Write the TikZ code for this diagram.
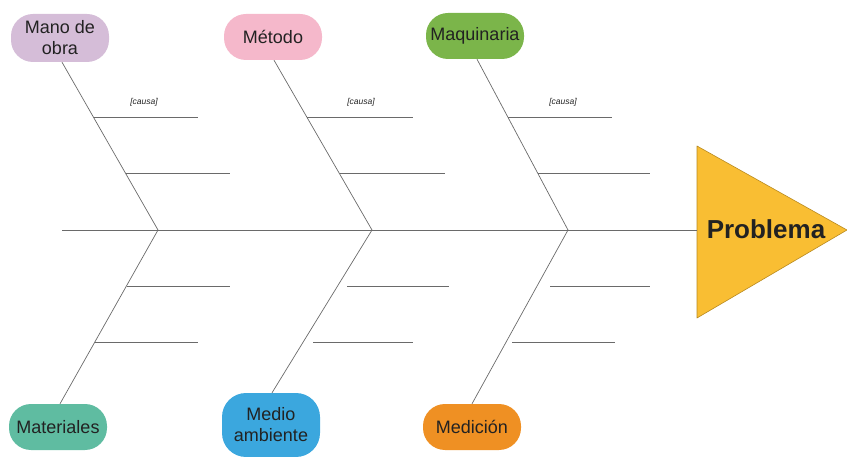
\documentclass[tikz,border=0pt]{standalone}
\usepackage{fontspec}
\setmainfont{Liberation Sans}
\usetikzlibrary{calc}
\definecolor{cMano}{HTML}{D5BDD8}
\definecolor{cMetodo}{HTML}{F5B8CB}
\definecolor{cMaq}{HTML}{7BB54A}
\definecolor{cMat}{HTML}{5FBCA1}
\definecolor{cMedio}{HTML}{3BA7DE}
\definecolor{cMedicion}{HTML}{EF9023}
\definecolor{cProb}{HTML}{F9BE33}
\definecolor{cProbLine}{HTML}{B88A20}
\definecolor{cBone}{HTML}{6A6A6A}
\definecolor{cText}{HTML}{222222}
\begin{document}
\begin{tikzpicture}[x=1pt,y=-1pt,
  category/.style={rectangle, rounded corners=22pt, minimum width=98pt, minimum height=46pt,
    inner sep=2pt, align=center, text=cText, font=\fontsize{18}{21}\selectfont},
  bone/.style={draw=cBone, line width=0.7pt},
  rib/.style={draw=cBone, line width=0.6pt},
  causa/.style={font=\fontsize{8.5}{10}\selectfont\itshape, text=cText}]
\useasboundingbox (0,0) rectangle (847,457);

% category boxes
\node[category, fill=cMano, minimum height=48pt] (mano) at (60,38) {Mano de\\obra};
\node[category, fill=cMetodo] (metodo) at (273,37) {Método};
\node[category, fill=cMaq] (maq) at (475,36) {Maquinaria};
\node[category, fill=cMat] (mat) at (58,427) {Materiales};
\node[category, fill=cMedio, minimum height=64pt, rounded corners=24pt] (medio) at (271,425) {Medio\\ambiente};
\node[category, fill=cMedicion] (medicion) at (472,427) {Medición};

% head of the fish
\draw[fill=cProb, draw=cProbLine, line width=0.6pt, line join=round]
  (697,146) -- (847,230) -- (697,318) -- cycle;
\node[font=\fontsize{26}{28}\selectfont\bfseries, text=cText] (prob) at (766,229) {Problema};

% spine
\coordinate (tail) at (62,230);
\coordinate (head) at (697,230);
\coordinate (j1) at (158,230);
\coordinate (j2) at (372,230);
\coordinate (j3) at (568,230);
\draw[bone] (tail) -- (head);

% main bones
\draw[bone] ([xshift=2pt]mano.south) -- (j1);
\draw[bone] ([xshift=2pt]mat.north) -- (j1);
\draw[bone] ([xshift=1pt]metodo.south) -- (j2);
\draw[bone] ([xshift=1pt]medio.north) -- (j2);
\draw[bone] ([xshift=2pt]maq.south) -- (j3);
\draw[bone] (medicion.north) -- (j3);

% ribs, first bone
\coordinate (a1) at (94,117);  \coordinate (a1e) at (198,117);
\coordinate (a2) at (126,173); \coordinate (a2e) at (230,173);
\coordinate (a3) at (127,286); \coordinate (a3e) at (230,286);
\coordinate (a4) at (95,342);  \coordinate (a4e) at (198,342);
\draw[rib] (a1) -- (a1e);
\draw[rib] (a2) -- (a2e);
\draw[rib] (a3) -- (a3e);
\draw[rib] (a4) -- (a4e);

% ribs, second bone
\coordinate (b1) at (307,117); \coordinate (b1e) at (413,117);
\coordinate (b2) at (340,173); \coordinate (b2e) at (445,173);
\coordinate (b3) at (347,286); \coordinate (b3e) at (449,286);
\coordinate (b4) at (313,342); \coordinate (b4e) at (413,342);
\draw[rib] (b1) -- (b1e);
\draw[rib] (b2) -- (b2e);
\draw[rib] (b3) -- (b3e);
\draw[rib] (b4) -- (b4e);

% ribs, third bone
\coordinate (c1) at (508,117); \coordinate (c1e) at (612,117);
\coordinate (c2) at (538,173); \coordinate (c2e) at (650,173);
\coordinate (c3) at (550,286); \coordinate (c3e) at (650,286);
\coordinate (c4) at (512,342); \coordinate (c4e) at (615,342);
\draw[rib] (c1) -- (c1e);
\draw[rib] (c2) -- (c2e);
\draw[rib] (c3) -- (c3e);
\draw[rib] (c4) -- (c4e);

% cause labels
\node[causa] (k1) at (144,102) {[causa]};
\node[causa] (k2) at (361,102) {[causa]};
\node[causa] (k3) at (563,102) {[causa]};
\end{tikzpicture}
\end{document}
